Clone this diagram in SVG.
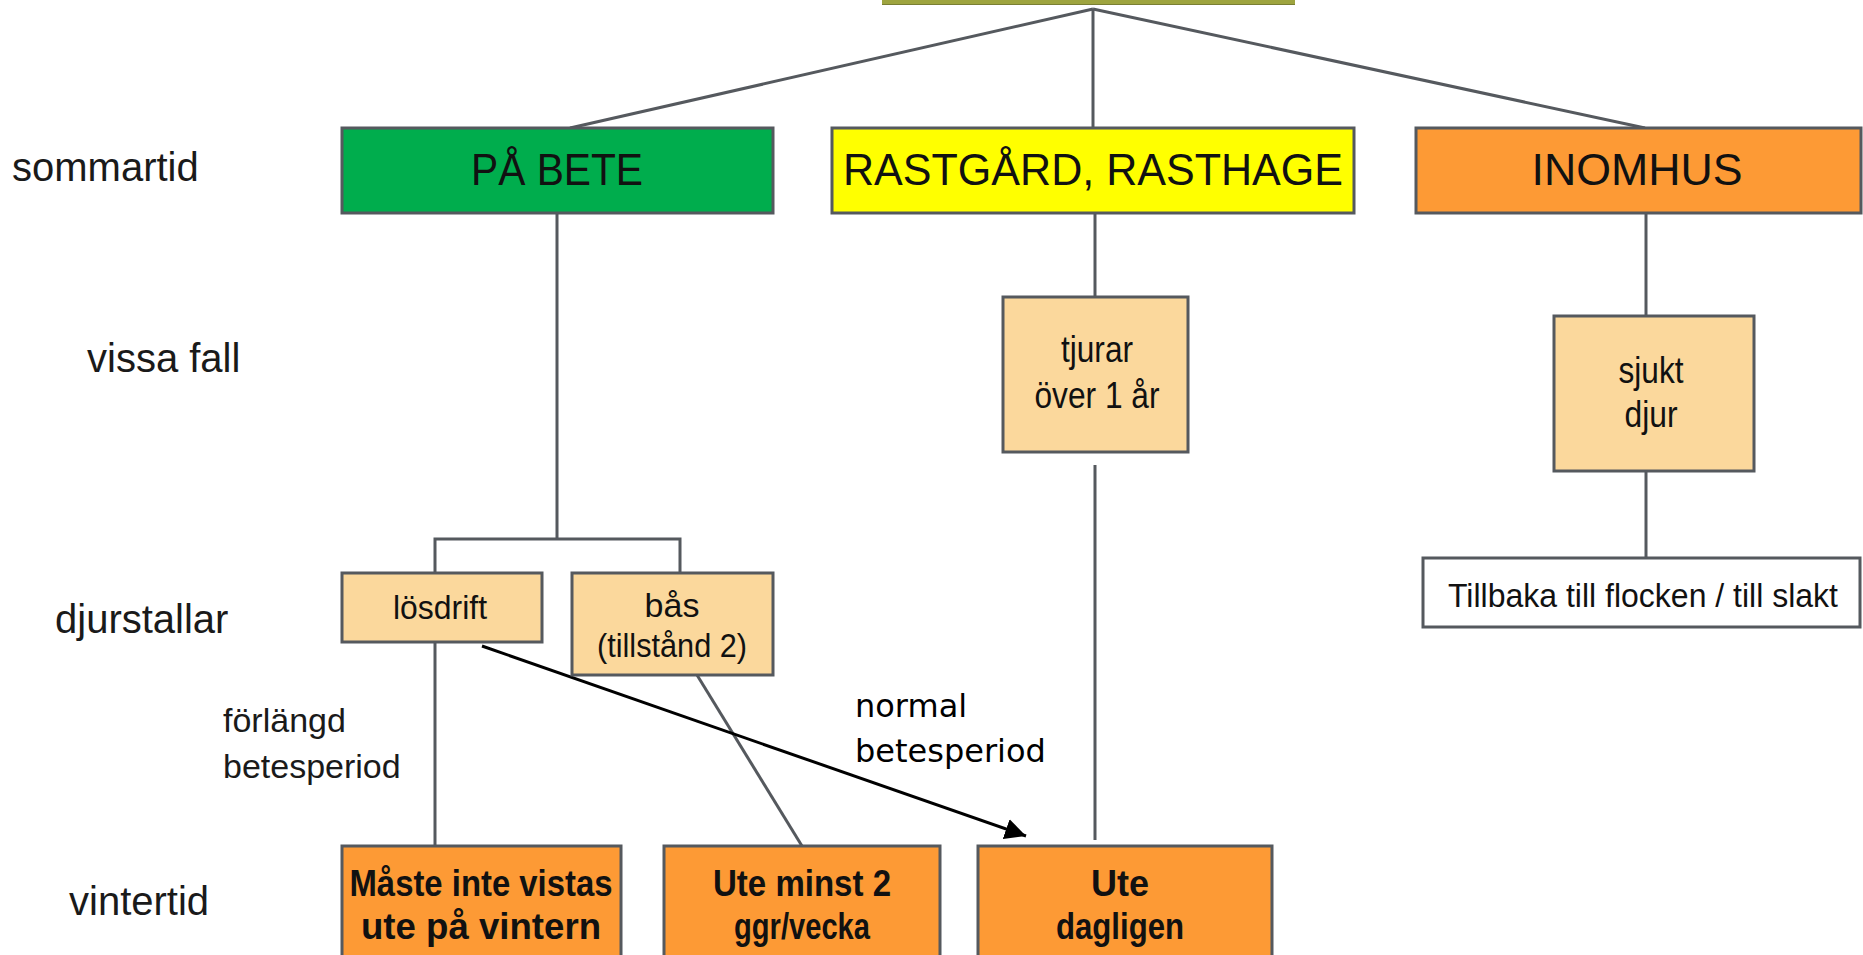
<svg xmlns="http://www.w3.org/2000/svg" width="1863" height="955" viewBox="0 0 1863 955">
<style>
  .box { stroke: #55595e; stroke-width: 3; }
  .green { fill: #00ad4d; }
  .yellow { fill: #ffff00; }
  .orange { fill: #fd9a35; }
  .peach { fill: #fbd89c; }
  .white { fill: #ffffff; }
  .conn { stroke: #55595e; stroke-width: 3; fill: none; }
  .t { font-family: "Liberation Sans", Arial, sans-serif; fill: #111; }
  .big { font-size: 44px; text-anchor: middle; }
  .mid { font-size: 36px; text-anchor: middle; }
  .bold { font-size: 36px; font-weight: bold; text-anchor: middle; }
  .side { font-size: 40px; fill: #1a1a1a; }
  .small { font-size: 34px; fill: #1a1a1a; }
  .lbl { font-family: "DejaVu Sans", Verdana, sans-serif; font-size: 32px; fill: #000; }
</style>
<defs>
  <marker id="arr" viewBox="0 0 10 10" refX="10" refY="5" markerWidth="7" markerHeight="7" markerUnits="strokeWidth" orient="auto">
    <path d="M0,0 L10,5 L0,10 z" fill="#000"/>
  </marker>
</defs>
<rect width="1863" height="955" fill="#ffffff"/>

<g id="top-strip">
  <rect x="882" y="0" width="413" height="5" fill="#9ea43f"/>
  <line x1="882" y1="4.5" x2="1295" y2="4.5" stroke="#7a7f33" stroke-width="1"/>
</g>

<g id="connectors">
  <line class="conn" x1="1093" y1="9" x2="570" y2="128"/>
  <line class="conn" x1="1093" y1="9" x2="1093" y2="128"/>
  <line class="conn" x1="1093" y1="9" x2="1645" y2="128"/>
  <line class="conn" x1="557" y1="213" x2="557" y2="539"/>
  <polyline class="conn" points="435,573 435,539 680,539 680,573"/>
  <line class="conn" x1="1095" y1="213" x2="1095" y2="297"/>
  <line class="conn" x1="1095" y1="465" x2="1095" y2="840"/>
  <line class="conn" x1="1646" y1="213" x2="1646" y2="316"/>
  <line class="conn" x1="1646" y1="471" x2="1646" y2="558"/>
  <line class="conn" x1="435" y1="642" x2="435" y2="846"/>
  <line class="conn" x1="697" y1="675" x2="802" y2="846"/>
  <line x1="482" y1="646" x2="1026" y2="836" stroke="#000" stroke-width="3" marker-end="url(#arr)"/>
</g>

<g id="row-labels">
  <text class="t side" x="12" y="181">sommartid</text>
  <text class="t side" x="87" y="372">vissa fall</text>
  <text class="t side" x="55" y="633">djurstallar</text>
  <text class="t side" x="69" y="915">vintertid</text>
</g>

<g id="label-forlangd">
  <text class="t small" x="223" y="732">förlängd</text>
  <text class="t small" x="223" y="778">betesperiod</text>
</g>

<g id="label-normal">
  <text class="lbl" x="855" y="717">normal</text>
  <text class="lbl" x="855" y="762">betesperiod</text>
</g>

<g id="pa-bete">
  <rect class="box green" x="342" y="128" width="431" height="85"/>
  <text class="t big" x="557" y="185" textLength="172" lengthAdjust="spacingAndGlyphs">PÅ BETE</text>
</g>

<g id="rastgard">
  <rect class="box yellow" x="832" y="128" width="522" height="85"/>
  <text class="t big" x="1093" y="185" textLength="500" lengthAdjust="spacingAndGlyphs">RASTGÅRD, RASTHAGE</text>
</g>

<g id="inomhus">
  <rect class="box orange" x="1416" y="128" width="445" height="85"/>
  <text class="t big" x="1637" y="185" textLength="211" lengthAdjust="spacingAndGlyphs">INOMHUS</text>
</g>

<g id="tjurar">
  <rect class="box peach" x="1003" y="297" width="185" height="155"/>
  <text class="t mid" x="1097" y="362" textLength="72" lengthAdjust="spacingAndGlyphs">tjurar</text>
  <text class="t mid" x="1097" y="408" textLength="125" lengthAdjust="spacingAndGlyphs">över 1 år</text>
</g>

<g id="sjukt">
  <rect class="box peach" x="1554" y="316" width="200" height="155"/>
  <text class="t mid" x="1651" y="383" textLength="65" lengthAdjust="spacingAndGlyphs">sjukt</text>
  <text class="t mid" x="1651" y="427" textLength="53" lengthAdjust="spacingAndGlyphs">djur</text>
</g>

<g id="tillbaka">
  <rect class="box white" x="1423" y="558" width="437" height="69"/>
  <text class="t" x="1448" y="607" font-size="33" textLength="390" lengthAdjust="spacingAndGlyphs">Tillbaka till flocken / till slakt</text>
</g>

<g id="losdrift">
  <rect class="box peach" x="342" y="573" width="200" height="69"/>
  <text class="t" x="440" y="619" font-size="34" text-anchor="middle" textLength="94" lengthAdjust="spacingAndGlyphs">lösdrift</text>
</g>

<g id="bas">
  <rect class="box peach" x="572" y="573" width="201" height="102"/>
  <text class="t" x="672" y="617" font-size="34" text-anchor="middle">bås</text>
  <text class="t" x="672" y="657" font-size="34" text-anchor="middle" textLength="150" lengthAdjust="spacingAndGlyphs">(tillstånd 2)</text>
</g>

<g id="maste">
  <rect class="box orange" x="342" y="846" width="279" height="115"/>
  <text class="t bold" x="481" y="896" textLength="263" lengthAdjust="spacingAndGlyphs">Måste inte vistas</text>
  <text class="t bold" x="481" y="939" textLength="240" lengthAdjust="spacingAndGlyphs">ute på vintern</text>
</g>

<g id="ute-minst">
  <rect class="box orange" x="664" y="846" width="276" height="115"/>
  <text class="t bold" x="802" y="896" textLength="178" lengthAdjust="spacingAndGlyphs">Ute minst 2</text>
  <text class="t bold" x="802" y="939" textLength="136" lengthAdjust="spacingAndGlyphs">ggr/vecka</text>
</g>

<g id="ute-dagligen">
  <rect class="box orange" x="978" y="846" width="294" height="115"/>
  <text class="t bold" x="1120" y="896">Ute</text>
  <text class="t bold" x="1120" y="939" textLength="128" lengthAdjust="spacingAndGlyphs">dagligen</text>
</g>
</svg>
